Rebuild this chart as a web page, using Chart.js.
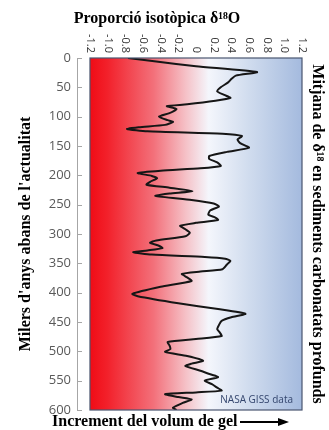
<!DOCTYPE html>
<html>
<head>
<meta charset="utf-8">
<script src="https://cdn.jsdelivr.net/npm/chart.js@4.4.1/dist/chart.umd.min.js"></script>
<style>
    html, body { margin: 0; padding: 0; background: #fff; }
</style>
</head>
<body>
<canvas id="grafic" width="329" height="430"></canvas>
<script>
// milers d'anys abans de l'actualitat
const milersAnys = [0, 6, 14, 24, 30, 36, 42, 50, 57, 63, 68, 73, 79, 82, 87, 94, 100, 106, 109, 114,
    118, 121, 125, 129, 133, 139, 145, 153, 160, 167, 172, 178, 184, 188, 192, 196, 201, 205, 211, 216,
    221, 227, 231, 235, 242, 248, 253, 260, 267, 272, 276, 281, 286, 292, 298, 304, 311, 315, 320, 324,
    328, 331, 335, 339, 342, 346, 352, 360, 364, 368, 374, 380, 390, 402, 406, 418, 428, 436, 442, 448,
    455, 462, 468, 474, 479, 484, 490, 496, 501, 508, 516, 521, 525, 533, 540, 544, 550, 556, 562, 567,
    570, 573, 578, 582, 588, 596, 600];
// proporció isotòpica delta 18O
const delta18O = [-0.77, -0.45, 0.0, 0.69, 0.45, 0.40, 0.36, 0.28, 0.24, 0.32, 0.39, 0.22, -0.10, -0.33, -0.22, -0.30, -0.42, -0.32, -0.26, -0.35,
    -0.65, -0.78, -0.55, 0.30, 0.52, 0.47, 0.50, 0.60, 0.35, 0.15, 0.15, 0.24, 0.28, 0.05, -0.40, -0.66, -0.50, -0.44, -0.52, -0.56,
    -0.30, -0.04, -0.30, -0.46, -0.05, 0.20, 0.26, 0.16, 0.14, 0.22, 0.25, 0.0, -0.18, -0.12, -0.07, -0.12, -0.45, -0.52, -0.42, -0.38,
    -0.55, -0.71, -0.50, 0.10, 0.33, 0.39, 0.35, 0.30, 0.05, -0.16, -0.10, -0.05, -0.40, -0.72, -0.66, -0.20, 0.25, 0.56, 0.40, 0.29,
    0.26, 0.24, 0.27, 0.29, 0.0, -0.32, -0.30, -0.29, -0.35, -0.10, 0.08, -0.05, -0.12, 0.05, 0.18, 0.25, 0.10, 0.18, 0.24, 0.29,
    0.0, -0.35, -0.20, -0.05, -0.15, -0.26, -0.22];
const ticsX = [-1.2, -1.0, -0.8, -0.6, -0.4, -0.2, 0, 0.2, 0.4, 0.6, 0.8, 1.0, 1.2];
const etiquetesX = ["-1.2", "-1.0", "-0.8", "-0.6", "-0.4", "-0.2", "0", "0.2", "0.4", "0.6", "0.8", "1.0", "1.2"];
const ticsY = [0, 50, 100, 150, 200, 250, 300, 350, 400, 450, 500, 550, 600];

const serif = "'Liberation Serif', 'Times New Roman', 'DejaVu Serif', serif";
const sans = "'Open Sans', 'Liberation Sans', sans-serif";

// fons degradat, vora, etiquetes de dalt i textos solts
const decoracio = {
    id: "decoracio",
    beforeDatasetsDraw(chart) {
        const { ctx, chartArea, scales } = chart;
        const x0 = scales.x.getPixelForValue(-1.2);
        const x1 = scales.x.getPixelForValue(1.2);
        const grad = ctx.createLinearGradient(x0, 0, x1, 0);
        grad.addColorStop(0, "rgb(240,12,22)");
        grad.addColorStop(0.08, "rgb(242,32,42)");
        grad.addColorStop(0.3, "rgb(243,112,122)");
        grad.addColorStop(0.45, "rgb(245,192,198)");
        grad.addColorStop(0.56, "rgb(244,246,252)");
        grad.addColorStop(0.75, "rgb(208,220,238)");
        grad.addColorStop(1, "rgb(164,186,222)");
        ctx.save();
        ctx.fillStyle = grad;
        ctx.fillRect(x0, chartArea.top, x1 - x0, chartArea.bottom - chartArea.top);
        ctx.restore();
    },
    afterDatasetsDraw(chart) {
        const { ctx, chartArea, scales } = chart;
        const x0 = scales.x.getPixelForValue(-1.2);
        const x1 = scales.x.getPixelForValue(1.2);
        ctx.save();
        ctx.strokeStyle = "#4a5670";
        ctx.lineWidth = 1.2;
        ctx.strokeRect(x0, chartArea.top, x1 - x0, chartArea.bottom - chartArea.top);

        // marques de l'eix vertical
        ctx.strokeStyle = "#a6a6a6";
        ctx.lineWidth = 1;
        ticsY.forEach(v => {
            const y = Math.round(scales.y.getPixelForValue(v)) + 0.5;
            ctx.beginPath();
            ctx.moveTo(chartArea.left, y);
            ctx.lineTo(chartArea.left + 5, y);
            ctx.stroke();
        });

        // etiquetes de l'eix de dalt, girades
        ctx.fillStyle = "#333";
        ctx.font = "11px " + sans;
        ctx.textAlign = "right";
        ctx.textBaseline = "middle";
        ticsX.forEach((v, i) => {
            const x = scales.x.getPixelForValue(v);
            ctx.save();
            ctx.translate(x, 53);
            ctx.rotate(Math.PI / 2);
            ctx.fillText(etiquetesX[i], 0, 0);
            ctx.restore();
        });

        // títol de dalt
        ctx.fillStyle = "#000";
        ctx.font = "bold 16px " + serif;
        ctx.textAlign = "center";
        ctx.fillText("Proporció isotòpica δ¹⁸O", 157, 19);

        // text de sota i fletxa
        ctx.textAlign = "left";
        ctx.fillText("Increment del volum de gel", 52, 422);
        ctx.strokeStyle = "#000";
        ctx.lineWidth = 2;
        ctx.beginPath();
        ctx.moveTo(240, 422);
        ctx.lineTo(280, 422);
        ctx.stroke();
        ctx.beginPath();
        ctx.moveTo(289, 422);
        ctx.lineTo(278, 418);
        ctx.lineTo(278, 426);
        ctx.closePath();
        ctx.fill();

        ctx.fillStyle = "#34466e";
        ctx.font = "10px " + sans;
        ctx.textAlign = "right";
        ctx.fillText("NASA GISS data", x1 - 9, 400);
        ctx.restore();
    }
};

const punts = milersAnys.map((a, i) => ({ x: delta18O[i], y: a }));

new Chart(document.getElementById("grafic"), {
    type: "scatter",
    data: {
        datasets: [{
            data: punts,
            showLine: true,
            borderColor: "#161616",
            borderWidth: 2,
            pointRadius: 0,
            tension: 0.2,
            yAxisID: "y"
        }]
    },
    options: {
        responsive: false,
        animation: false,
        layout: { padding: { left: 16, right: 2, top: 0, bottom: 20 } },
        plugins: { legend: { display: false }, tooltip: { enabled: false } },
        scales: {
            x: {
                type: "linear",
                position: "top",
                min: -1.347,
                max: 1.2,
                ticks: { display: false },
                grid: { display: false, drawTicks: false },
                border: { display: false },
                afterFit: s => { s.height = 58; }
            },
            y: {
                type: "linear",
                position: "left",
                reverse: true,
                min: 0,
                max: 600,
                afterBuildTicks: s => { s.ticks = ticsY.map(v => ({ value: v })); },
                ticks: { color: "#595959", font: { family: sans, size: 13 }, padding: 6 },
                grid: { display: false, drawTicks: false },
                border: { display: true, color: "#a6a6a6", width: 1 },
                title: {
                    display: true,
                    text: "Milers d'anys abans de l'actualitat",
                    color: "#000",
                    font: { family: serif, size: 16, weight: "bold" },
                    padding: 0
                },
                afterFit: s => { s.width = 61; }
            },
            y2: {
                type: "linear",
                position: "right",
                reverse: true,
                min: 0,
                max: 600,
                ticks: { display: false },
                grid: { display: false, drawTicks: false },
                border: { display: false },
                title: {
                    display: true,
                    text: "Mitjana de δ¹⁸ en sediments carbonatats profunds",
                    color: "#000",
                    font: { family: serif, size: 16, weight: "bold" },
                    padding: 0
                },
                afterFit: s => { s.width = 25; }
            }
        }
    },
    plugins: [decoracio]
});
</script>
</body>
</html>
